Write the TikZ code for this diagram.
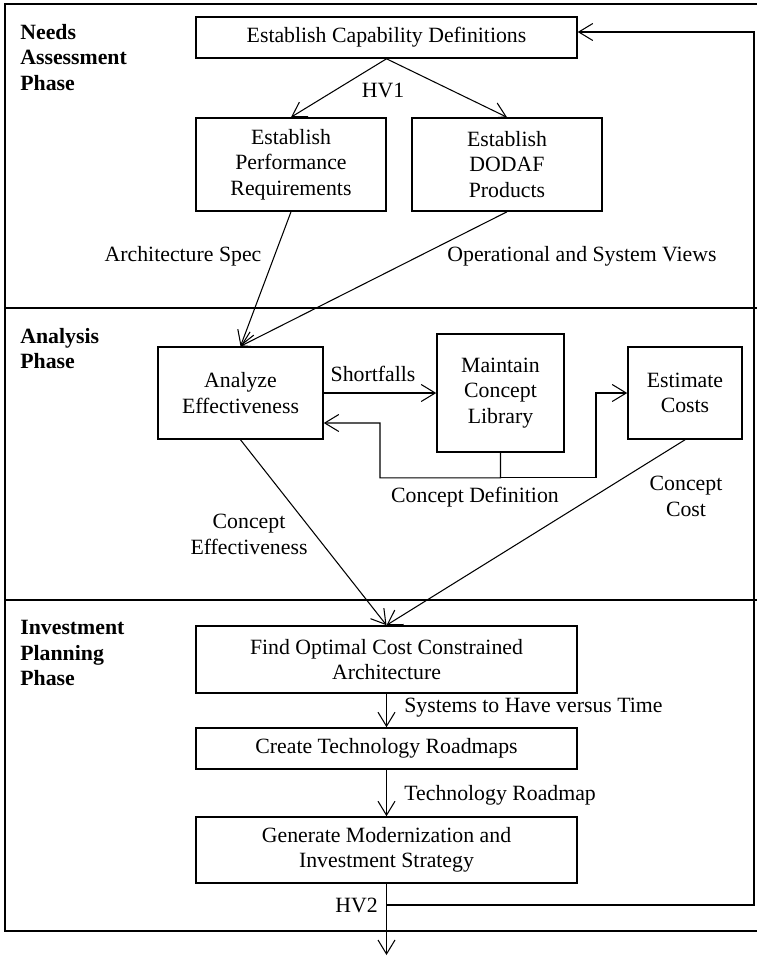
\documentclass[tikz,border=0pt]{standalone}
\usepackage{fontspec}
\setmainfont{Liberation Serif}
\usetikzlibrary{arrows.meta}

\tikzset{
  box/.style={draw=black,line width=0.9pt,inner sep=0pt,align=center,font=\fontsize{12.4}{14.5}\selectfont},
  lbl/.style={inner sep=0pt,align=center,font=\fontsize{12.4}{14.5}\selectfont},
  phase/.style={inner sep=0pt,align=left,anchor=north west,font=\fontsize{12.4}{14.5}\selectfont\bfseries},
  arr/.style={-{Straight Barb[length=2.8mm,width=3.4mm]},line width=0.6pt},
  frame/.style={line width=1.2pt}
}

\begin{document}
\begin{tikzpicture}[x=0.02cm,y=-0.02cm]
        \useasboundingbox (0,0) rectangle (757,957);
        \draw[frame] (757,4) -- (5,4) -- (5,931) -- (757,931);
        \draw[frame] (5,308) -- (757,308);
        \draw[frame] (5,600) -- (757,600);
        \node[phase] (pneeds) at (20,24) {Needs\\Assessment\\Phase};
        \node[phase] (panal) at (20,328) {Analysis\\Phase};
        \node[phase] (pinv) at (20,620) {Investment\\Planning\\Phase};

        \node[box,minimum width=7.62cm,minimum height=0.82cm] (cap) at (386.5,37.5) {Establish Capability Definitions};
        \node[box,minimum width=3.8cm,minimum height=1.86cm] (perf) at (291,164.5) {Establish\\Performance\\Requirements};
        \node[box,minimum width=3.8cm,minimum height=1.86cm] (dodaf) at (507,164.5) {Establish\\DODAF\\Products};
        \node[box,minimum width=3.3cm,minimum height=1.84cm] (analyze) at (240.5,393) {Analyze\\Effectiveness};
        \node[box,minimum width=2.54cm,minimum height=2.36cm] (maintain) at (500.5,393) {Maintain\\Concept\\Library};
        \node[box,minimum width=2.28cm,minimum height=1.84cm] (estimate) at (685,393) {Estimate\\Costs};
        \node[box,minimum width=7.62cm,minimum height=1.34cm] (findopt) at (386.5,659.5) {Find Optimal Cost Constrained\\Architecture};
        \node[box,minimum width=7.62cm,minimum height=0.82cm] (create) at (386.5,748.5) {Create Technology Roadmaps};
        \node[box,minimum width=7.62cm,minimum height=1.32cm] (generate) at (386.5,850) {Generate Modernization and\\Investment Strategy};
        \coordinate (hvtwo) at (386.5,905);
        \coordinate (out) at (386.5,955);

        \path [arr] (cap.south) edge (perf.north);
        \path [arr] (cap.south) edge (dodaf.north);
        \path [arr] (perf.south) edge (analyze.north);
        \path [arr] (dodaf.south) edge (analyze.north);
        \path [arr] (analyze.east) edge (maintain.west);
        \draw [arr] (maintain.south) -- ++(0,25) -| (380,423) -- ([yshift=-0.6cm]analyze.east);
        \draw [arr] (maintain.south) -- ++(0,25) -| (596,393) -- (estimate.west);
        \path [arr] (analyze.south) edge (findopt.north);
        \path [arr] (estimate.south) edge (findopt.north);
        \path [arr] (findopt) edge (create);
        \path [arr] (create) edge (generate);
        \path [arr] (generate.south) edge (out);
        \draw [arr] (hvtwo) -- (754,905) |- ([yshift=0.11cm]cap.east);

        \node[lbl] (hv1) at (383,90) {HV1};
        \node[lbl] (archspec) at (183,256) {Architecture Spec};
        \node[lbl] (opviews) at (582,256) {Operational and System Views};
        \node[lbl] (shortfalls) at (373,374) {Shortfalls};
        \node[lbl] (cdef) at (475,497) {Concept Definition};
        \node[lbl] (ccost) at (686,496.5) {Concept\\Cost};
        \node[lbl] (ceff) at (249,534.5) {Concept\\Effectiveness};
        \node[lbl,anchor=west] (systime) at (404,708) {Systems to Have versus Time};
        \node[lbl,anchor=west] (techrm) at (404,795) {Technology Roadmap};
        \node[lbl,anchor=east] (hv2) at (378,905) {HV2};
    \end{tikzpicture}
\end{document}
